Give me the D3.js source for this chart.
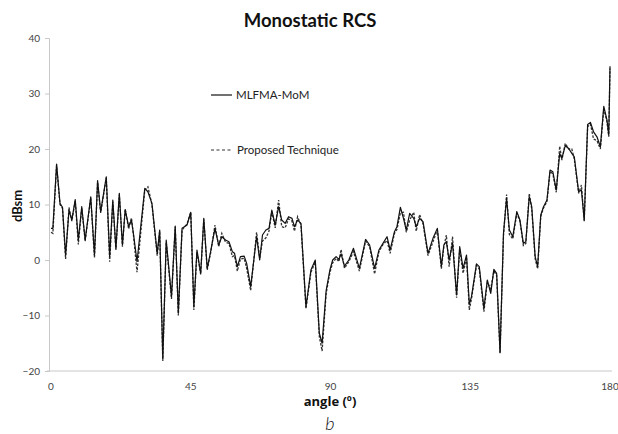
<!DOCTYPE html>
<html>
<head>
<meta charset="utf-8">
<script src="https://cdn.jsdelivr.net/npm/d3@7"></script>
<style>
  body { margin: 0; background: #fff; }
  text { font-family: Lato, "Open Sans", sans-serif; }
</style>
</head>
<body>
<svg id="chart" width="618" height="434"></svg>
<script>
// angle (deg) for each sample
const angles = [0, 0.6, 1.8, 2.9, 3.7, 4.7, 5.8, 6.7, 7.8, 8.8, 9.9, 11, 12.8, 14, 15, 16, 17.8, 18.9, 19.9, 20.9,
  22, 23, 23.9, 25, 25.9, 26.6, 27.7, 30.2, 31.2, 32.5, 34.2, 35, 36, 37.1, 38.8, 40, 41, 42.2, 43.8, 45,
  46, 47, 48.2, 49.2, 50.3, 51.4, 52.8, 54, 55, 56.2, 57.3, 58.4, 59.1, 60, 61, 62.2, 63, 64.3, 66.2, 67.2,
  68.1, 69.2, 70.2, 71.1, 72.2, 73.3, 74.3, 75.4, 76.5, 77.6, 78.4, 79.4, 80.5, 82.1, 83.7, 85.1, 86.4, 87.3, 88.6, 89.8,
  90.7, 91.8, 92.7, 93.4, 94.5, 95.9, 97.4, 99.3, 101.3, 102.6, 104.2, 105.6, 106.9, 108.2, 109.2, 110.6, 111.4, 112.5, 113.5, 114.4,
  115.5, 116.8, 117.6, 118.7, 119.8, 121.4, 123, 124.4, 125.7, 126.5, 127.3, 128.2, 129.3, 130.6, 131.6, 132.7, 133.8, 134.7, 135.4, 137,
  137.9, 139.4, 140.5, 141.6, 142.6, 143.5, 144.6, 145.7, 146.7, 147.6, 148.7, 150, 151, 152.1, 152.9, 154, 154.8, 155.9, 156.7, 157.7,
  158.6, 159.7, 160.7, 161.6, 162.7, 163.8, 164.5, 165.6, 166.7, 167.7, 168.5, 169.9, 170.8, 171.7, 172.8, 173.7, 174.7, 175.8, 176.9, 178,
  179, 179.6, 180];

const mlfma = [5.7, 5.7, 17.3, 10.2, 9.5, 0.9, 9, 7.2, 10.9, 3.6, 9.6, 3.6, 11.4, 0.9, 14.3, 8.7, 15, 0.6, 10.8, 2.1,
  12, 2.7, 9.1, 6, 7.2, 4.5, -0.3, 12.9, 12.3, 10.2, 1.2, 5.4, -17.8, 3.6, -6.6, 6.1, -9.6, 5.7, 6.3, 8.6,
  -8.4, 1.8, -2.4, 7.5, -1.5, 1.5, 5.7, 2.7, 4.2, 3.6, 3.3, 1.5, 1.2, -1.2, 0.6, 0.7, -0.6, -4.8, 4.2, 0,
  4.5, 5.4, 5.7, 9, 6.3, 9.6, 7.2, 6.6, 7.8, 7.5, 6, 7.2, 6.6, -8.4, -1.8, 0, -13.2, -15, -5.5, -1.8,
  0, 0.6, 0.1, 1.1, -1.1, 0, 2.1, -1.5, 3.7, 2.7, -1.5, 1.8, 3, 4.2, 1.8, 5.1, 6, 9.5, 7.5, 5.4,
  8.4, 7.5, 6, 7.5, 6.9, 1.2, 3.9, 5.7, -1.1, 2.7, 3.3, 0, 3, -6.3, 2.4, -1.5, 0.9, -8, -6.6, -0.7,
  -1.2, -8.7, -3.6, -6, -1.7, -2.4, -16.6, 4.8, 11.1, 5.4, 4.2, 8.7, 7.2, 3, 3.3, 11.4, 9.6, 0.6, -1.2, 8.1,
  9.6, 10.8, 16.2, 15.9, 12.6, 19.2, 18.3, 20.6, 20.1, 19.2, 18.6, 12.3, 12.6, 7.2, 24.4, 24.8, 23.1, 22.2, 20.4, 27.7,
  25.3, 22.5, 34.9];

const proposed = [5, 4.8, 17, 10, 9.3, 0.2, 9.5, 7, 10.6, 2.8, 9.4, 3.4, 11.2, 0.4, 14, 8.5, 14.8, -0.3, 10.5, 1.8,
  11.8, 2.4, 9.2, 5.6, 7.6, 4.2, -2.2, 12.6, 13.2, 10, 0.8, 5.2, -18.2, 3.2, -7, 6, -10, 5.4, 6.5, 8.6,
  -9, 1.5, -2.6, 7.3, -1.8, 1.3, 6.3, 2.4, 4.8, 3.2, 3, 0.6, 0.8, -2, 0.2, 0.3, -1.5, -5.5, 5, 0.4,
  3.4, 4, 5.2, 8.7, 5.8, 10.8, 6, 5.8, 7.4, 7, 5.2, 7.8, 6.3, -8.8, -2.2, -0.4, -13.8, -16.4, -6, -2.3,
  -0.5, 0.3, -0.3, 1.9, -1.5, -0.3, 1.5, -2, 3.4, 2.4, -2.5, 1.5, 2.8, 3.5, 1.2, 4.8, 5.5, 8.5, 8.6, 5,
  7.2, 8.6, 5.2, 8.2, 6.5, 0.8, 3.3, 5.4, -1.6, 2.4, 4.5, -1.2, 4.2, -6.8, 2, -2.4, 0.5, -9, -7, -1,
  -1.6, -9.3, -4, -5.2, -2, -2.8, -16.8, 4.4, 11.8, 4.6, 3.8, 8.4, 7, 2.6, 3, 12, 9.2, 0.2, -1.6, 7.8,
  9.4, 10.5, 16, 15.5, 12.2, 20.5, 18, 21, 20, 20, 18.2, 12, 13.5, 7, 24, 24.5, 21.8, 21.5, 20, 27.2,
  25, 22.2, 34.5];

const yTicks = [-20, -10, 0, 10, 20, 30, 40];
const xTicks = [0, 45, 90, 135, 180];

const svg = d3.select("#chart");

const x = d3.scaleLinear().domain([0, 180]).range([51, 610]);
const y = d3.scaleLinear().domain([-20, 40]).range([371, 38]);

// title
svg.append("text")
  .attr("x", 310).attr("y", 27)
  .attr("text-anchor", "middle")
  .attr("font-size", 18.5).attr("font-weight", "bold")
  .attr("fill", "#111")
  .text("Monostatic RCS");

// y axis
const yAxis = svg.append("g")
  .attr("transform", "translate(49,0)")
  .call(d3.axisLeft(y).tickValues(yTicks).tickSize(4).tickPadding(5));
yAxis.select(".domain").attr("stroke", "#c8c8c8");
yAxis.selectAll(".tick line").attr("stroke", "#c8c8c8");
yAxis.selectAll(".tick text").attr("font-size", 10).attr("fill", "#444")
  .style("font-family", "Lato, 'Open Sans', sans-serif");

// x axis
svg.append("line")
  .attr("x1", 47).attr("x2", 612)
  .attr("y1", y(-20)).attr("y2", y(-20))
  .attr("stroke", "#c8c8c8");
svg.append("g").selectAll("text")
  .data(xTicks)
  .join("text")
  .attr("x", d => x(d)).attr("y", 390)
  .attr("text-anchor", "middle")
  .attr("font-size", 10).attr("fill", "#444")
  .text(d => d);

// axis titles
svg.append("text")
  .attr("transform", "translate(22,206) rotate(-90)")
  .attr("text-anchor", "middle")
  .attr("font-size", 13).attr("font-weight", "bold")
  .attr("fill", "#111")
  .text("dBsm");

svg.append("text")
  .attr("x", 330).attr("y", 406)
  .attr("text-anchor", "middle")
  .attr("font-size", 13).attr("font-weight", "bold")
  .attr("fill", "#111")
  .style("font-family", "'Open Sans', Lato, sans-serif")
  .text("angle (º)");

svg.append("text")
  .attr("x", 330).attr("y", 430)
  .attr("text-anchor", "middle")
  .attr("font-size", 18).attr("font-style", "italic")
  .attr("font-weight", 300)
  .attr("fill", "#111")
  .text("b");

// series
const line = d3.line()
  .x((d, i) => x(angles[i]))
  .y(d => y(d));

svg.append("path")
  .datum(proposed)
  .attr("fill", "none")
  .attr("stroke", "#333")
  .attr("stroke-width", 1.3)
  .attr("stroke-dasharray", "2.5,1.5")
  .attr("d", line);

svg.append("path")
  .datum(mlfma)
  .attr("fill", "none")
  .attr("stroke", "#111")
  .attr("stroke-width", 1.2)
  .attr("stroke-linejoin", "round")
  .attr("d", line);

// legend
const legend = svg.append("g");
legend.append("line")
  .attr("x1", 211).attr("x2", 232).attr("y1", 95).attr("y2", 95)
  .attr("stroke", "#111").attr("stroke-width", 1.2);
legend.append("text")
  .attr("x", 236).attr("y", 99)
  .attr("font-size", 11.5).attr("fill", "#222")
  .text("MLFMA-MoM");
legend.append("line")
  .attr("x1", 211).attr("x2", 232).attr("y1", 150).attr("y2", 150)
  .attr("stroke", "#333").attr("stroke-width", 1.2)
  .attr("stroke-dasharray", "3,2.5");
legend.append("text")
  .attr("x", 237).attr("y", 154)
  .attr("font-size", 11.5).attr("fill", "#222")
  .text("Proposed Technique");
</script>
</body>
</html>
